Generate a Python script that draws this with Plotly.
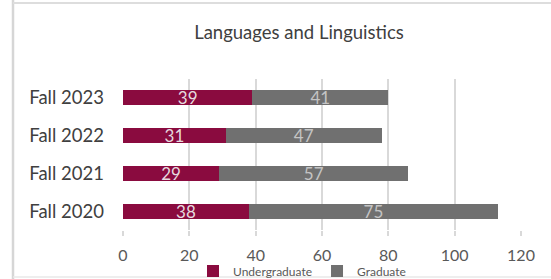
import plotly.graph_objects as go

categories = ["Fall 2020", "Fall 2021", "Fall 2022", "Fall 2023"]
undergraduate = [38, 29, 31, 39]
graduate = [75, 57, 47, 41]
x_ticks = [0, 20, 40, 60, 80, 100, 120]

W, H = 551, 279
L, R, T, B = 123, 30, 79, 49
pw = W - L - R
ph = H - T - B

def px_x(x):
    return (x - L) / pw

def px_y(y):
    return (H - B - y) / ph

FONT = "Lato"
fig = go.Figure()
fig.add_trace(go.Bar(
    y=categories, x=undergraduate, name="Undergraduate", orientation="h",
    marker=dict(color="#8A0B3F", line=dict(width=0)),
    text=undergraduate, textposition="inside", insidetextanchor="middle",
    constraintext="none", cliponaxis=False,
    textfont=dict(family=FONT, size=17, color="#E6DADF"),
    textangle=0,
))
fig.add_trace(go.Bar(
    y=categories, x=graduate, name="Graduate", orientation="h",
    marker=dict(color="#707070", line=dict(width=0)),
    text=graduate, textposition="inside", insidetextanchor="middle",
    constraintext="none", cliponaxis=False,
    textfont=dict(family=FONT, size=17, color="#C4C4C4"),
    textangle=0,
))

fig.update_layout(
    width=W, height=H,
    margin=dict(l=L, r=R, t=T, b=B, autoexpand=False),
    barmode="stack", bargap=0.6,
    paper_bgcolor="white", plot_bgcolor="white",
    font=dict(family=FONT, color="#595959"),
    title=dict(text="Languages and Linguistics", x=299 / W, xanchor="center",
               y=1 - 33 / H, yanchor="middle",
               font=dict(family=FONT, size=18.5, color="#404040")),
    xaxis=dict(range=[0, 120], tickvals=x_ticks, showgrid=True,
               gridcolor="#D9D9D9", gridwidth=1.5, zeroline=False,
               ticks="outside", ticklen=5, tickcolor="#D9D9D9", tickwidth=1.5,
               ticklabelstandoff=6, automargin=False,
               tickfont=dict(family=FONT, size=16, color="#595959"),
               fixedrange=True),
    yaxis=dict(categoryorder="array", categoryarray=categories,
               showgrid=False, zeroline=False, showline=False,
               ticklabelstandoff=18, automargin=False,
               tickfont=dict(family=FONT, size=18.5, color="#404040")),
    legend=dict(orientation="h", xref="container", yref="container",
                x=302 / W, xanchor="center",
                y=1 - 271 / H, yanchor="middle",
                bgcolor="rgba(0,0,0,0)",
                font=dict(family=FONT, size=12, color="#595959"),
                itemwidth=30, tracegroupgap=0, traceorder="normal"),
    showlegend=True,
)

# chart frame lines
fig.add_shape(type="line", xref="paper", yref="paper",
              x0=px_x(13), x1=px_x(13), y0=px_y(0), y1=px_y(H),
              line=dict(color="#D6D6D6", width=2.5))
fig.add_shape(type="line", xref="paper", yref="paper",
              x0=px_x(13), x1=px_x(W), y0=px_y(3), y1=px_y(3),
              line=dict(color="#DDDDDD", width=2))
fig.add_shape(type="line", xref="paper", yref="paper",
              x0=px_x(13), x1=px_x(W), y0=px_y(277), y1=px_y(277),
              line=dict(color="#E8E8E8", width=1.5))

fig.write_html(
    "out.html",
    config={"displayModeBar": False},
    post_script="document.body.style.margin='0';document.body.style.overflow='hidden';",
)
